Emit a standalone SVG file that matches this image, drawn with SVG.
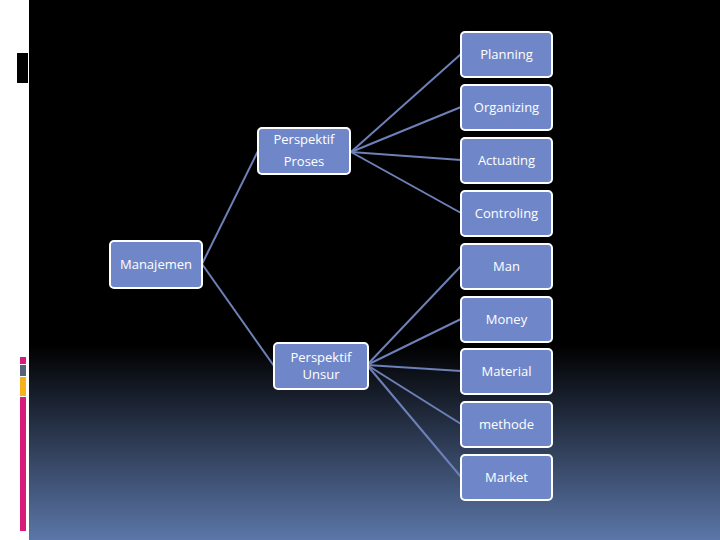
<svg xmlns="http://www.w3.org/2000/svg" width="720" height="540" viewBox="0 0 720 540">
<defs>
<linearGradient id="bg" x1="0" y1="0" x2="0" y2="540" gradientUnits="userSpaceOnUse">
<stop offset="0" stop-color="#000000"/>
<stop offset="0.64" stop-color="#000000"/>
<stop offset="1" stop-color="#5b76a8"/>
</linearGradient>
<style>
.box{fill:#6f87c8;stroke:#ffffff;stroke-width:2}
.t{font-family:"Open Sans","Liberation Sans",sans-serif;font-size:13px;fill:#ffffff;text-anchor:middle}
.c{stroke:#6d80b8;stroke-width:2;fill:none}
</style>
</defs>
<rect x="0" y="0" width="720" height="540" fill="#ffffff"/>
<rect x="29" y="0" width="691" height="540" fill="url(#bg)"/>
<rect x="17" y="53" width="11" height="30" fill="#000000"/>
<rect x="20" y="357" width="6" height="7" fill="#d81b7a"/>
<rect x="20" y="365" width="6" height="11" fill="#56617a"/>
<rect x="20" y="377" width="6" height="19" fill="#f5b21c"/>
<rect x="20" y="397" width="6" height="134" fill="#d81b7a"/>
<g id="connectors">
<line class="c" x1="202" y1="264" x2="258" y2="151"/>
<line class="c" x1="202" y1="264" x2="274" y2="366"/>
<line class="c" x1="351" y1="152" x2="461" y2="54"/>
<line class="c" x1="351" y1="152" x2="461" y2="107"/>
<line class="c" x1="351" y1="152" x2="461" y2="160"/>
<line class="c" x1="351" y1="152" x2="461" y2="213"/>
<line class="c" x1="367" y1="365" x2="461" y2="266"/>
<line class="c" x1="367" y1="365" x2="461" y2="319"/>
<line class="c" x1="367" y1="365" x2="461" y2="371"/>
<line class="c" x1="367" y1="365" x2="461" y2="424"/>
<line class="c" x1="367" y1="365" x2="461" y2="477"/>
</g>
<g id="manajemen"><rect class="box" x="110" y="241" width="92" height="47" rx="4"/><text class="t" x="156" y="269">Manajemen</text></g>
<g id="perspektif-proses"><rect class="box" x="258" y="128" width="92" height="46" rx="4"/><text class="t" x="304" y="144">Perspektif</text><text class="t" x="304" y="166">Proses</text></g>
<g id="perspektif-unsur"><rect class="box" x="274" y="343" width="94" height="46" rx="4"/><text class="t" x="321" y="362">Perspektif</text><text class="t" x="321" y="379">Unsur</text></g>
<g id="planning"><rect class="box" x="461" y="32" width="91" height="45" rx="4"/><text class="t" x="506.5" y="59">Planning</text></g>
<g id="organizing"><rect class="box" x="461" y="85" width="91" height="45" rx="4"/><text class="t" x="506.5" y="112">Organizing</text></g>
<g id="actuating"><rect class="box" x="461" y="138" width="91" height="45" rx="4"/><text class="t" x="506.5" y="165">Actuating</text></g>
<g id="controling"><rect class="box" x="461" y="191" width="91" height="45" rx="4"/><text class="t" x="506.5" y="218">Controling</text></g>
<g id="man"><rect class="box" x="461" y="244" width="91" height="45" rx="4"/><text class="t" x="506.5" y="271">Man</text></g>
<g id="money"><rect class="box" x="461" y="297" width="91" height="45" rx="4"/><text class="t" x="506.5" y="324">Money</text></g>
<g id="material"><rect class="box" x="461" y="349" width="91" height="45" rx="4"/><text class="t" x="506.5" y="376">Material</text></g>
<g id="methode"><rect class="box" x="461" y="402" width="91" height="45" rx="4"/><text class="t" x="506.5" y="429">methode</text></g>
<g id="market"><rect class="box" x="461" y="455" width="91" height="45" rx="4"/><text class="t" x="506.5" y="482">Market</text></g>
</svg>
